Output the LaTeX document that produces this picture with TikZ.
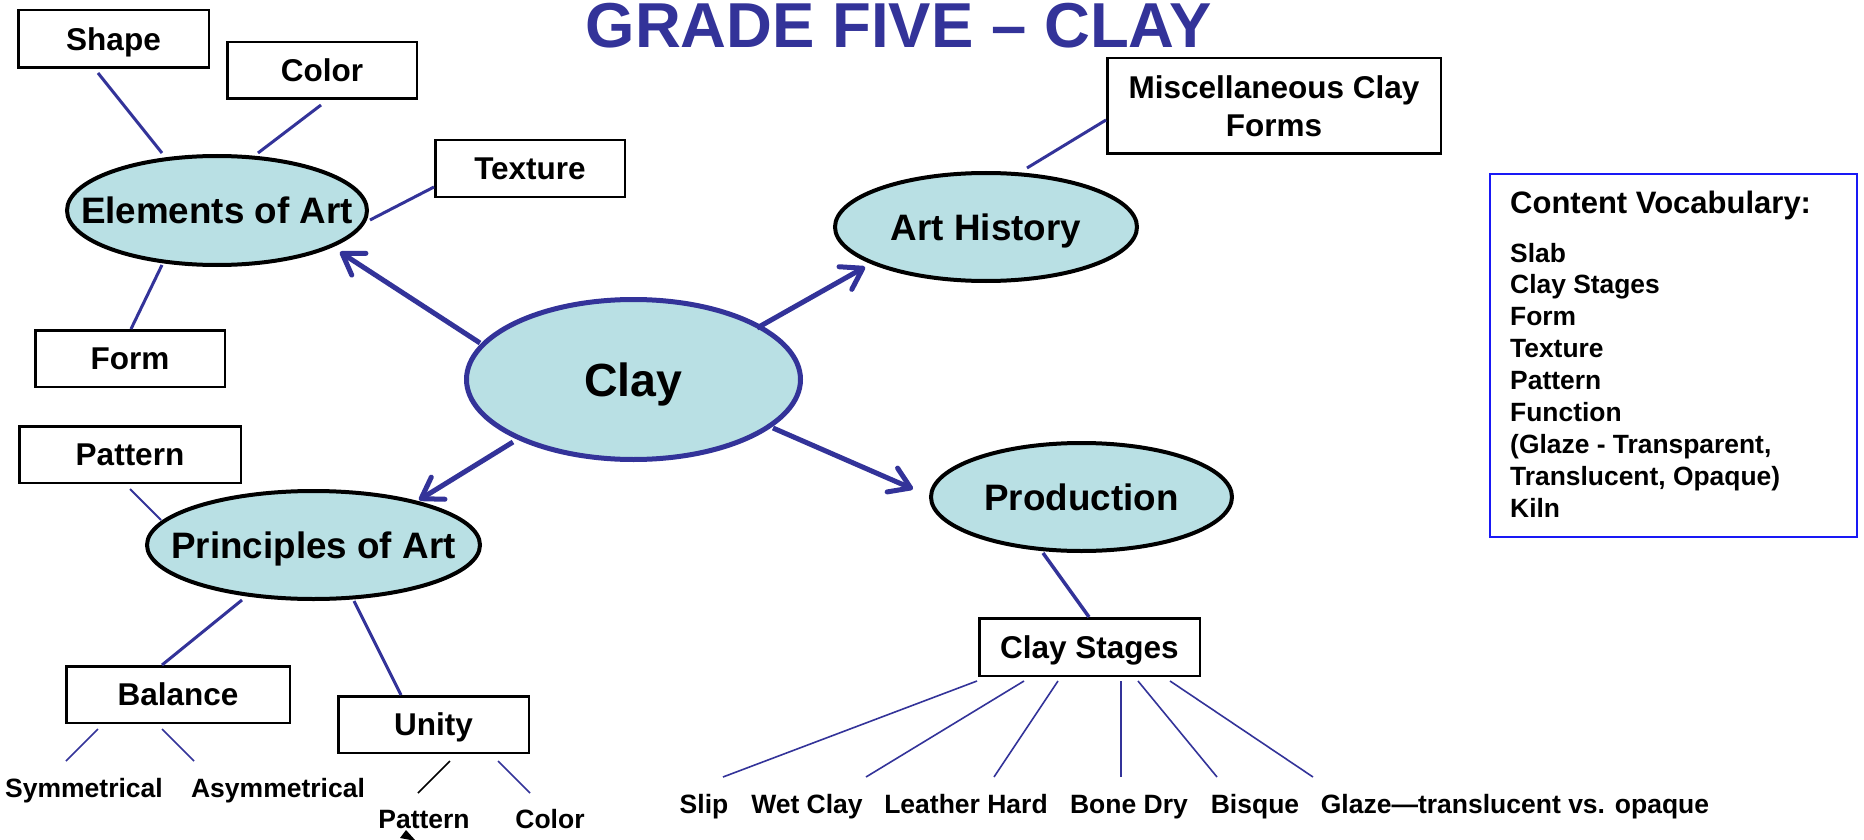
\documentclass[tikz,border=0pt]{standalone}
\usepackage{fontspec}
\setmainfont{Liberation Sans}
\usetikzlibrary{shapes.geometric,arrows.meta}
\definecolor{lineblue}{RGB}{51,51,153}
\definecolor{ellfill}{RGB}{185,224,228}
\definecolor{vocblue}{RGB}{25,25,245}
\newcommand{\nowidth}[1]{\makebox[0pt]{#1}}
\tikzset{
  ell/.style={ellipse, draw=black, line width=4pt, fill=ellfill, inner sep=0pt, text depth=0pt,
    font=\fontsize{36.8}{44}\selectfont\bfseries},
  box/.style={rectangle, draw=black, line width=2.5pt, fill=white, inner sep=0pt, text depth=0pt,
    font=\fontsize{31.5}{38}\selectfont\bfseries},
  leaf/.style={inner sep=0pt, anchor=base, font=\fontsize{26.5}{32}\selectfont\bfseries},
  vitem/.style={inner sep=0pt, anchor=base west, font=\fontsize{26.4}{32}\selectfont\bfseries},
  conn/.style={draw=lineblue, line width=3pt},
  thinline/.style={draw=lineblue, line width=1.6pt},
  arr/.style={draw=lineblue, line width=5pt,
    -{Straight Barb[length=20pt,width=26pt,round]}}
}
\begin{document}
\begin{tikzpicture}[x=1pt,y=-1pt]
\fill[white] (0,0) rectangle (1864,840);
\useasboundingbox (0,0) rectangle (1864,840);

% title
\node[anchor=base, inner sep=0pt, text=lineblue,
  font=\fontsize{63.5}{70}\selectfont\bfseries] (title) at (898.5,48) {GRADE FIVE – CLAY};

% ellipses
\node[ell, draw=lineblue, line width=5pt, minimum width=334pt, minimum height=160pt,
  font=\fontsize{46.5}{56}\selectfont\bfseries] (clay) at (633.5,379.5) {\nowidth{Clay}};
\node[ell, minimum width=300pt, minimum height=109pt] (elem) at (217,210.5) {\nowidth{Elements of Art}};
\node[ell, minimum width=333pt, minimum height=108pt] (princ) at (313.5,545) {\nowidth{Principles of Art}};
\node[ell, minimum width=302pt, minimum height=108pt] (arth) at (986,227) {\nowidth{Art History}};
\node[ell, minimum width=301pt, minimum height=108pt] (prod) at (1081.5,497) {\nowidth{Production}};

% boxes
\node[box, minimum width=190.5pt, minimum height=57.5pt] (bshape) at (113.5,39) {Shape};
\node[box, minimum width=189.5pt, minimum height=56.5pt] (bcolor) at (322,70.5) {Color};
\node[box, minimum width=189.5pt, minimum height=56.5pt] (btexture) at (530,168.5) {Texture};
\node[box, minimum width=189.5pt, minimum height=56.5pt] (bform) at (130,358.5) {Form};
\node[box, minimum width=221.5pt, minimum height=56.5pt] (bpattern) at (130,454.5) {Pattern};
\node[box, minimum width=223.5pt, minimum height=56.5pt] (bbalance) at (178,694.5) {Balance};
\node[box, minimum width=190.5pt, minimum height=56.5pt] (bunity) at (433.5,724.5) {Unity};
\node[box, minimum width=333.5pt, minimum height=95.5pt, align=center] (misc) at (1274,106) {Miscellaneous Clay\\Forms};
\node[box, minimum width=220.5pt, minimum height=57.5pt] (stages) at (1089.5,647) {Clay Stages};

% leaf labels
\node[leaf] (sym) at (84,797) {Symmetrical};
\node[leaf] (asym) at (278,797) {Asymmetrical};
\node[leaf] (upat) at (424,828) {Pattern};
\node[leaf] (ucol) at (550,828) {Color};
\node[leaf] (slip) at (704,813) {Slip};
\node[leaf] (wet) at (807,813) {Wet Clay};
\node[leaf] (leather) at (966,813) {Leather Hard};
\node[leaf] (bone) at (1129,813) {Bone Dry};
\node[leaf] (bisque) at (1255,813) {Bisque};
\node[leaf] (glaze) at (1515,813) {Glaze—translucent vs. opaque};

% vocabulary box
\node[draw=vocblue, line width=2pt, minimum width=367pt, minimum height=363pt, inner sep=0pt] (vocab) at (1673.5,355.5) {};
\node[inner sep=0pt, anchor=base west, font=\fontsize{31}{37}\selectfont\bfseries] (vhead) at (1510,213) {Content Vocabulary:};
\node[vitem] (v1) at (1510,262) {Slab};
\node[vitem] (v2) at (1510,293.9) {Clay Stages};
\node[vitem] (v3) at (1510,325.8) {Form};
\node[vitem] (v4) at (1510,357.7) {Texture};
\node[vitem] (v5) at (1510,389.6) {Pattern};
\node[vitem] (v6) at (1510,421.5) {Function};
\node[vitem] (v7) at (1510,453.4) {(Glaze - Transparent,};
\node[vitem] (v8) at (1510,485.3) {Translucent, Opaque)};
\node[vitem] (v9) at (1510,517.2) {Kiln};

% elements connectors
\draw[conn] ([shift={(-15.5,4)}]bshape.south) -- ([shift={(-55,-1)}]elem.north);
\draw[conn] ([shift={(-1,5)}]bcolor.south) -- ([shift={(41,-1)}]elem.north);
\draw[conn] ([shift={(0,18.5)}]btexture.west) -- ([shift={(153,9.5)}]elem.center);
\draw[conn] ([shift={(1,0)}]bform.north) -- ([shift={(-55,54.5)}]elem.center);

% arrows from clay
\draw[arr] ([shift={(-153.5,-36.5)}]clay.center) -- ([shift={(123,41.5)}]elem.center);
\draw[arr] ([shift={(123.5,-51.5)}]clay.center) -- ([shift={(-121,40)}]arth.center);
\draw[arr] ([shift={(139.5,48.5)}]clay.center) -- ([shift={(-168.5,-8)}]prod.center);
\draw[arr] ([shift={(-120.5,62.5)}]clay.center) -- ([shift={(105.5,-45)}]princ.center);

% art history
\draw[conn] ([shift={(0,14)}]misc.west) -- ([shift={(41,-59)}]arth.center);

% principles
\draw[draw=lineblue, line width=2pt] ([shift={(0,5)}]bpattern.south) -- ([shift={(-152.5,-25)}]princ.center);
\draw[conn] ([shift={(-71.5,55)}]princ.center) -- ([shift={(-16,0)}]bbalance.north);
\draw[conn] ([shift={(40.5,56)}]princ.center) -- ([shift={(-32.5,0)}]bunity.north);
\draw[thinline] ([shift={(-80,5)}]bbalance.south) -- ([shift={(-18,-36)}]sym.base);
\draw[thinline] ([shift={(-16,5)}]bbalance.south) -- ([shift={(-84,-36)}]asym.base);
\draw[black, line width=1.6pt] ([shift={(16.5,7)}]bunity.south) -- ([shift={(-6,-35)}]upat.base);
\draw[thinline] ([shift={(64.5,7)}]bunity.south) -- ([shift={(-20,-35)}]ucol.base);
\fill[black] (406,830) -- (400,838) -- (416,841) -- cycle;

% production
\draw[conn, line width=3.5pt] ([shift={(-38.5,56)}]prod.center) -- ([shift={(-0.5,0)}]stages.north);
\draw[thinline] ([shift={(-112.5,4)}]stages.south) -- ([shift={(19,-36)}]slip.base);
\draw[thinline] ([shift={(-65.5,4)}]stages.south) -- ([shift={(59,-36)}]wet.base);
\draw[thinline] ([shift={(-31.5,4)}]stages.south) -- ([shift={(28,-36)}]leather.base);
\draw[thinline] ([shift={(31.5,4)}]stages.south) -- ([shift={(-8,-36)}]bone.base);
\draw[thinline] ([shift={(48.5,4)}]stages.south) -- ([shift={(-38,-36)}]bisque.base);
\draw[thinline] ([shift={(80.5,4)}]stages.south) -- ([shift={(-202,-36)}]glaze.base);
\end{tikzpicture}
\end{document}
